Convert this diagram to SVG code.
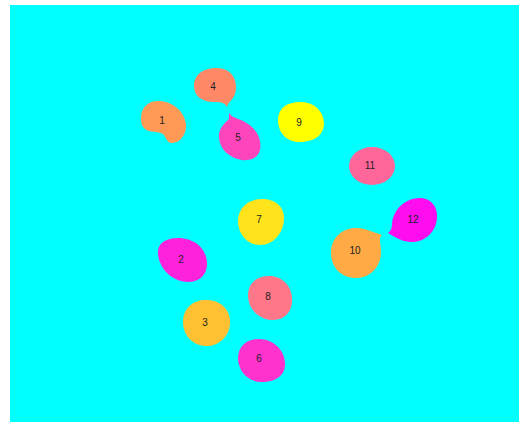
<svg xmlns="http://www.w3.org/2000/svg" width="520" height="424" viewBox="0 0 520 424">
<defs>
<filter id="soft" x="-20%" y="-20%" width="140%" height="140%"><feGaussianBlur stdDeviation="0.7"/></filter>
<style>
.b{filter:url(#soft)}
text{font-family:"Liberation Sans",Arial,sans-serif;font-size:10px;fill:#222;text-anchor:middle;dominant-baseline:central}
</style>
</defs>
<rect x="0" y="0" width="520" height="424" fill="#ffffff"/>
<rect x="10" y="5" width="509" height="417" fill="#00ffff"/>
<g id="connectors"></g>
<g id="n1"><path class="b" fill="#ff9955" d="M141,118 C141,106 150,100 160,101 C172,102 184,110 186,124 C187,134 180,143 172,143 C167,143 166,137 163,134 C158,131 148,133 144,128 C141,125 141,121 141,118 Z"/><text x="162" y="120">1</text></g>
<g id="n4"><path class="b" fill="#ff8866" d="M194,86 C194,74 204,68 216,68 C228,68 236,75 236,87 C236,97 231,100 228,104 L227,107 C225,103 222,102 214,102 C202,102 194,96 194,86 Z"/><text x="213" y="86">4</text></g>
<g id="n5"><path class="b" fill="#ff44bb" d="M229,113 C233,119 240,118 248,124 C257,130 262,140 260,150 C258,158 250,161 242,160 C230,158 220,150 219,138 C218,129 224,124 229,119 Z"/><text x="238" y="137">5</text></g>
<g id="n9"><path class="b" fill="#ffff00" d="M278,120 C278,108 287,102 300,102 C314,102 323,110 324,123 C324,136 313,142 299,142 C286,142 278,132 278,120 Z"/><text x="299" y="122">9</text></g>
<g id="n11"><ellipse class="b" fill="#ff6699" cx="372" cy="166" rx="23" ry="19"/><text x="370" y="165">11</text></g>
<g id="n12"><path class="b" fill="#ff11ee" d="M388,233 C391,231 392,228 392,224 C393,210 405,198 420,198 C431,198 438,207 437,218 C436,232 425,242 412,242 C403,242 397,238 393,236 Z"/><text x="413" y="219">12</text></g>
<g id="n10"><path class="b" fill="#ffaa44" d="M382,235 C378,238 381,244 381,252 C381,266 371,278 356,278 C342,278 331,268 331,253 C331,238 342,228 356,228 C366,228 372,232 382,235 Z"/><text x="355" y="250">10</text></g>
<g id="n7"><path class="b" fill="#ffe41a" d="M238,221 C238,208 248,199 262,199 C276,199 284,207 284,218 C284,232 274,245 260,245 C247,245 238,234 238,221 Z"/><text x="259" y="219">7</text></g>
<g id="n2"><path class="b" fill="#ff22dd" d="M158,254 C157,244 165,238 178,238 C195,238 207,249 207,264 C207,275 199,282 188,282 C172,282 159,268 158,254 Z"/><text x="181" y="259">2</text></g>
<g id="n8"><path class="b" fill="#ff7788" d="M248,295 C248,283 257,276 269,276 C283,276 293,287 292,302 C291,314 283,320 272,320 C259,320 248,309 248,295 Z"/><text x="268" y="296">8</text></g>
<g id="n3"><path class="b" fill="#ffc033" d="M183,322 C183,308 193,300 206,300 C221,300 231,310 230,324 C229,337 218,347 205,346 C192,345 183,335 183,322 Z"/><text x="205" y="322">3</text></g>
<g id="n6"><path class="b" fill="#ff33cc" d="M238,358 C238,346 247,339 259,339 C273,339 285,350 285,364 C285,376 275,382 262,382 C248,382 238,371 238,358 Z"/><text x="259" y="358">6</text></g>
</svg>
